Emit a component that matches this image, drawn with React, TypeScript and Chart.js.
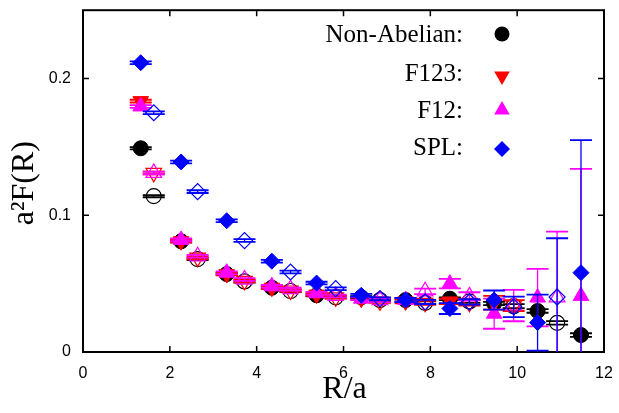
import React, { useEffect, useRef } from 'react';
import { Chart, registerables } from 'chart.js';

Chart.register(...registerables);

// R/a positions: on-axis (filled markers) and off-axis (open markers)
const onAxisR = [1.33, 2.26, 3.31, 4.35, 5.38, 6.41, 7.43, 8.45, 9.47, 10.47, 11.47];
const offAxisR = [1.63, 2.64, 3.72, 4.78, 5.82, 6.84, 7.88, 8.9, 9.92, 10.92];

const nonAbelianOn = [0.149, 0.081, 0.057, 0.047, 0.0415, 0.040, 0.038, 0.039, 0.0355, 0.030, 0.0124];
const nonAbelianOnErr = [0.0008, 0.0008, 0.0008, 0.0008, 0.0008, 0.0008, 0.001, 0.001, 0.0012, 0.0013, 0.0013];
const nonAbelianOff = [0.114, 0.068, 0.0516, 0.0446, 0.040, 0.038, 0.036, 0.037, 0.0335, 0.0213];
const nonAbelianOffErr = [0.0008, 0.0008, 0.0008, 0.0008, 0.0008, 0.0008, 0.001, 0.001, 0.0015, 0.0013];

const f123On = [0.1835, 0.081, 0.057, 0.047, 0.042, 0.039, 0.037, 0.037, 0.036];
const f123OnErr = [0.001, 0.001, 0.001, 0.001, 0.001, 0.001, 0.0015, 0.002, 0.005];
const f123Off = [0.131, 0.069, 0.052, 0.045, 0.040, 0.037, 0.036, 0.036, 0.034];
const f123OffErr = [0.001, 0.001, 0.001, 0.001, 0.001, 0.001, 0.0015, 0.002, 0.004];

const f12On = [0.1796, 0.082, 0.058, 0.048, 0.043, 0.039, 0.038, 0.050, 0.028, 0.0398, 0.041];
const f12OnErr = [0.001, 0.001, 0.001, 0.001, 0.001, 0.001, 0.0015, 0.0035, 0.011, 0.021, 0.093];
const f12Off = [0.131, 0.070, 0.053, 0.046, 0.041, 0.038, 0.0444, 0.0407, 0.034, 0.040];
const f12OffErr = [0.001, 0.001, 0.001, 0.001, 0.001, 0.0015, 0.002, 0.003, 0.0115, 0.048];

const splOn = [0.2116, 0.139, 0.096, 0.0664, 0.0504, 0.0415, 0.038, 0.0318, 0.038, 0.0215, 0.058];
const splOnErr = [0.001, 0.001, 0.001, 0.001, 0.001, 0.001, 0.0015, 0.004, 0.007, 0.0205, 0.097];
const splOff = [0.175, 0.1173, 0.0815, 0.0585, 0.0463, 0.039, 0.0366, 0.0366, 0.033, 0.0402];
const splOffErr = [0.001, 0.001, 0.001, 0.001, 0.001, 0.001, 0.0015, 0.002, 0.0075, 0.043];

const xTicks = [0, 2, 4, 6, 8, 10, 12];
const yTicks = [0, 0.1, 0.2];

const legendLabels = ['Non-Abelian:', 'F123:', 'F12:', 'SPL:'];

const BLACK = '#000000';
const RED = '#ff0000';
const MAGENTA = '#ff00ff';
const BLUE = '#0000ff';

function pts(xs: number[], ys: number[]) {
  return ys.map((y, i) => ({ x: xs[i], y }));
}

function mkSet(label: string, xs: number[], ys: number[], errs: number[], color: string, style: string, rot: number, radius: number, filled: boolean, order: number) {
  return {
    label,
    data: pts(xs, ys),
    errors: errs,
    errColor: color,
    showLine: false,
    order,
    pointStyle: style,
    pointRotation: rot,
    pointRadius: radius,
    pointHoverRadius: radius,
    pointBackgroundColor: filled ? color : 'rgba(0,0,0,0)',
    pointBorderColor: color,
    pointBorderWidth: filled ? 1 : 1.2,
  };
}

function drawMarker(ctx: CanvasRenderingContext2D, kind: string, x: number, y: number, r: number, color: string) {
  ctx.save();
  ctx.fillStyle = color;
  ctx.beginPath();
  if (kind === 'circle') {
    ctx.arc(x, y, r, 0, Math.PI * 2);
  } else if (kind === 'down') {
    ctx.moveTo(x - r * 0.866, y - r * 0.5);
    ctx.lineTo(x + r * 0.866, y - r * 0.5);
    ctx.lineTo(x, y + r);
  } else if (kind === 'up') {
    ctx.moveTo(x - r * 0.866, y + r * 0.5);
    ctx.lineTo(x + r * 0.866, y + r * 0.5);
    ctx.lineTo(x, y - r);
  } else {
    ctx.moveTo(x, y - r);
    ctx.lineTo(x + r, y);
    ctx.lineTo(x, y + r);
    ctx.lineTo(x - r, y);
  }
  ctx.closePath();
  ctx.fill();
  ctx.restore();
}

const framePlugin = {
  id: 'frameAndErrors',
  beforeDatasetsDraw(chart: any) {
    const { ctx, chartArea: a, scales } = chart;
    ctx.save();
    ctx.strokeStyle = '#000';
    ctx.lineWidth = 2;
    ctx.strokeRect(a.left, a.top, a.right - a.left, a.bottom - a.top);
    ctx.lineWidth = 1.5;
    const tl = 6;
    ctx.beginPath();
    xTicks.forEach((v) => {
      const px = scales.x.getPixelForValue(v);
      ctx.moveTo(px, a.bottom);
      ctx.lineTo(px, a.bottom - tl);
      ctx.moveTo(px, a.top);
      ctx.lineTo(px, a.top + tl);
    });
    yTicks.forEach((v) => {
      const py = scales.y.getPixelForValue(v);
      ctx.moveTo(a.left, py);
      ctx.lineTo(a.left + tl, py);
      ctx.moveTo(a.right, py);
      ctx.lineTo(a.right - tl, py);
    });
    ctx.stroke();
    ctx.restore();
  },
  beforeDatasetDraw(chart: any, args: any) {
    const { ctx, chartArea: a, scales } = chart;
    const ds = chart.data.datasets[args.index];
    const meta = args.meta;
    if (!ds.errors) return;
    ctx.save();
    ctx.beginPath();
    ctx.rect(a.left, a.top, a.right - a.left, a.bottom - a.top);
    ctx.clip();
    ctx.strokeStyle = ds.errColor;
    const cap = 11;
    meta.data.forEach((el: any, i: number) => {
      const d = ds.data[i];
      const e = ds.errors[i] || 0;
      const yHi = scales.y.getPixelForValue(d.y + e);
      const yLo = scales.y.getPixelForValue(d.y - e);
      const x = el.x;
      ctx.lineWidth = 1.3;
      ctx.beginPath();
      ctx.moveTo(x, yHi);
      ctx.lineTo(x, yLo);
      ctx.stroke();
      ctx.lineWidth = 1.8;
      ctx.beginPath();
      ctx.moveTo(x - cap, yHi);
      ctx.lineTo(x + cap, yHi);
      ctx.moveTo(x - cap, yLo);
      ctx.lineTo(x + cap, yLo);
      ctx.stroke();
    });
    ctx.restore();
  },
  afterDraw(chart: any) {
    const { ctx, chartArea: a } = chart;
    ctx.save();
    ctx.fillStyle = '#000';
    // y title
    ctx.save();
    ctx.translate(25, (a.top + a.bottom) / 2 + 2);
    ctx.rotate(-Math.PI / 2);
    ctx.font = '32px "Liberation Serif", "Times New Roman", serif';
    ctx.textAlign = 'center';
    ctx.textBaseline = 'middle';
    ctx.fillText('a\u00B2F(R)', 0, 0);
    ctx.restore();
    // x title
    ctx.font = '32px "Liberation Serif", "Times New Roman", serif';
    ctx.textAlign = 'center';
    ctx.textBaseline = 'alphabetic';
    ctx.fillText('R/a', (a.left + a.right) / 2 + 1, 398);
    // legend
    ctx.font = '25px "Liberation Serif", "Times New Roman", serif';
    ctx.textAlign = 'right';
    const baselines = [42, 81, 118, 155];
    const markerY = [34, 76, 110, 149];
    const kinds = ['circle', 'down', 'up', 'diamond'];
    const colors = [BLACK, RED, MAGENTA, BLUE];
    const radii = [7.5, 9, 9, 8];
    legendLabels.forEach((t, i) => {
      ctx.fillStyle = '#000';
      ctx.fillText(t, 463, baselines[i]);
      drawMarker(ctx, kinds[i], 502, markerY[i], radii[i], colors[i]);
    });
    ctx.restore();
  },
};

export default function App() {
  const ref = useRef<HTMLCanvasElement>(null);
  useEffect(() => {
    if (!ref.current) return;
    const datasets: any[] = [
      mkSet('Non-Abelian', onAxisR, nonAbelianOn, nonAbelianOnErr, BLACK, 'circle', 0, 7.5, true, 8),
      mkSet('Non-Abelian off', offAxisR, nonAbelianOff, nonAbelianOffErr, BLACK, 'circle', 0, 7.5, false, 7),
      mkSet('F123', onAxisR, f123On, f123OnErr, RED, 'triangle', 180, 9, true, 6),
      mkSet('F123 off', offAxisR, f123Off, f123OffErr, RED, 'triangle', 180, 9, false, 5),
      mkSet('F12', onAxisR, f12On, f12OnErr, MAGENTA, 'triangle', 0, 9, true, 4),
      mkSet('F12 off', offAxisR, f12Off, f12OffErr, MAGENTA, 'triangle', 0, 9, false, 3),
      mkSet('SPL', onAxisR, splOn, splOnErr, BLUE, 'rectRot', 0, 8, true, 2),
      mkSet('SPL off', offAxisR, splOff, splOffErr, BLUE, 'rectRot', 0, 8, false, 1),
    ];
    const chart = new Chart(ref.current, {
      type: 'scatter',
      data: { datasets },
      options: {
        animation: false,
        responsive: false,
        maintainAspectRatio: false,
        layout: { padding: { left: 0, top: 9, right: 15, bottom: 0 } },
        plugins: { legend: { display: false }, tooltip: { enabled: false } },
        scales: {
          x: {
            type: 'linear',
            min: 0,
            max: 12,
            grid: { display: false, drawTicks: false },
            border: { display: false },
            afterBuildTicks: (s: any) => { s.ticks = xTicks.map((v) => ({ value: v })); },
            afterFit: (s: any) => { s.height = 61; s.paddingLeft = 0; s.paddingRight = 0; },
            ticks: {
              color: '#000',
              padding: 12,
              maxRotation: 0,
              font: { family: '"Liberation Sans", Arial, sans-serif', size: 16 },
              callback: (v: any) => String(v),
            },
          },
          y: {
            type: 'linear',
            min: 0,
            max: 0.25,
            grid: { display: false, drawTicks: false },
            border: { display: false },
            afterBuildTicks: (s: any) => { s.ticks = yTicks.map((v) => ({ value: v })); },
            afterFit: (s: any) => { s.width = 83; s.paddingTop = 0; s.paddingBottom = 0; },
            ticks: {
              color: '#000',
              padding: 12,
              font: { family: '"Liberation Sans", Arial, sans-serif', size: 16 },
              callback: (v: any) => String(Math.round(v * 10) / 10),
            },
          },
        },
      } as any,
      plugins: [framePlugin],
    });
    return () => chart.destroy();
  }, []);
  return (
    <div style={{ position: 'fixed', left: 0, top: 0, width: 619, height: 413, background: '#fff' }}>
      <canvas ref={ref} width={619} height={413} style={{ width: 619, height: 413 }} />
    </div>
  );
}
